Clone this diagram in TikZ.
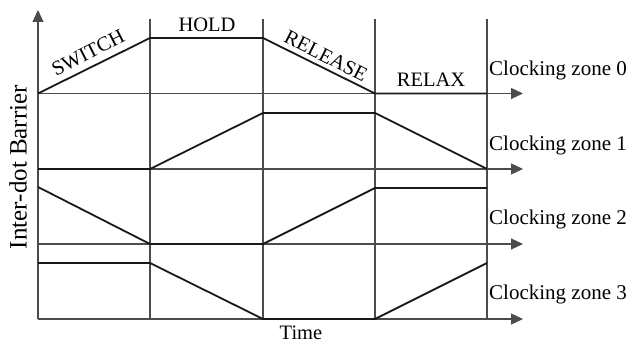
\documentclass[tikz,border=0pt]{standalone}
\usepackage{fontspec}
\setmainfont{Liberation Serif}
\usetikzlibrary{arrows.meta}
\begin{document}
\begin{tikzpicture}[x=1pt,y=-1pt,
    grid/.style={draw=black!70,line width=1.1pt},
    sig/.style={draw=black!90,line width=1.8pt,line join=miter},
    lbl/.style={font=\fontsize{20.5}{24}\selectfont,inner sep=0pt},
    >={Triangle[length=12pt,width=11pt]}]
  \useasboundingbox (0,0) rectangle (628,344);
  % axes and phase borders
  \draw[grid,->] (38,319) -- (38,10);
  \foreach \y in {93.5,169,244,319}
    \draw[grid,->] (38,\y) -- (523,\y);
  \foreach \x in {150,263,375,487}
    \draw[grid] (\x,19) -- (\x,319);
  % clock signals
  \draw[sig] (38,93.5) -- (150,38) -- (263,38) -- (375,93.5) -- (487,93.5);
  \draw[sig] (38,169) -- (150,169) -- (263,113) -- (375,113) -- (487,169);
  \draw[sig] (38,187) -- (150,244) -- (263,244) -- (375,188) -- (487,188);
  \draw[sig] (38,263) -- (150,263) -- (263,319) -- (375,319) -- (487,263);
  % phases
  \node[lbl,rotate=27] (switch) at (88,53) {SWITCH};
  \node[lbl] (hold) at (207,25) {HOLD};
  \node[lbl,rotate=-27] (release) at (326,56) {RELEASE};
  \node[lbl] (relax) at (431,80) {RELAX};
  % zones
  \foreach \y/\k in {70/0,145/1,219/2,294/3}
    \node[lbl,font=\fontsize{21}{24}\selectfont,anchor=west] (zone\k) at (489,\y) {Clocking zone \k};
  \node[lbl] (time) at (301,333) {Time};
  \node[lbl,font=\fontsize{25}{30}\selectfont,rotate=90] (barrier) at (18,167) {Inter-dot Barrier};
\end{tikzpicture}
\end{document}
